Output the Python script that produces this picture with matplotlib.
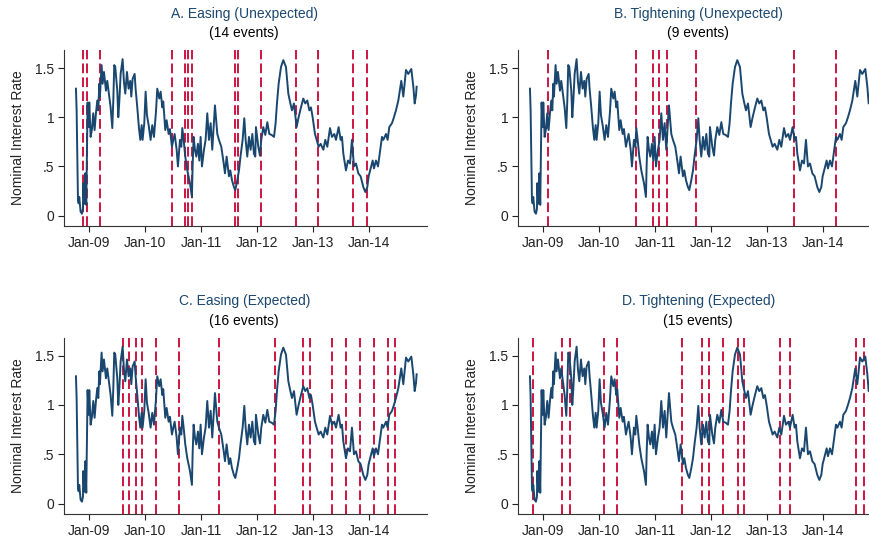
import numpy as np
import pandas as pd
import matplotlib
matplotlib.use('Agg')
import matplotlib.pyplot as plt

plt.rcParams['font.family'] = ['Liberation Sans', 'DejaVu Sans']
plt.rcParams['lines.scale_dashes'] = False

# interest rate series (time in decimal years)
rate_time = [
    2008.762, 2008.774, 2008.798, 2008.810, 2008.821, 2008.845, 2008.869, 2008.887,
    2008.893, 2008.911, 2008.929, 2008.946, 2008.970, 2008.988, 2009.000, 2009.024,
    2009.048, 2009.071, 2009.095, 2009.119, 2009.143, 2009.161, 2009.179, 2009.190,
    2009.220, 2009.238, 2009.262, 2009.298, 2009.321, 2009.345, 2009.381, 2009.411,
    2009.429, 2009.446, 2009.464, 2009.500, 2009.518, 2009.536, 2009.560, 2009.595,
    2009.619, 2009.643, 2009.673, 2009.702, 2009.732, 2009.750, 2009.774, 2009.810,
    2009.827, 2009.857, 2009.887, 2009.911, 2009.935, 2009.952, 2009.982, 2010.006,
    2010.030, 2010.060, 2010.095, 2010.125, 2010.155, 2010.190, 2010.214, 2010.250,
    2010.274, 2010.304, 2010.321, 2010.357, 2010.381, 2010.417, 2010.440, 2010.476,
    2010.500, 2010.524, 2010.560, 2010.583, 2010.619, 2010.643, 2010.661, 2010.685,
    2010.714, 2010.750, 2010.798, 2010.833, 2010.845, 2010.863, 2010.887, 2010.911,
    2010.940, 2010.964, 2010.988, 2011.012, 2011.048, 2011.077, 2011.107, 2011.137,
    2011.167, 2011.196, 2011.244, 2011.286, 2011.315, 2011.357, 2011.393, 2011.423,
    2011.452, 2011.494, 2011.518, 2011.548, 2011.583, 2011.607, 2011.643, 2011.673,
    2011.702, 2011.738, 2011.768, 2011.792, 2011.821, 2011.851, 2011.881, 2011.911,
    2011.940, 2011.964, 2011.976, 2012.018, 2012.048, 2012.071, 2012.107, 2012.143,
    2012.179, 2012.214, 2012.256, 2012.298, 2012.327, 2012.351, 2012.381, 2012.423,
    2012.464, 2012.512, 2012.554, 2012.583, 2012.619, 2012.655, 2012.702, 2012.738,
    2012.780, 2012.821, 2012.857, 2012.893, 2012.929, 2012.958, 2012.988, 2013.030,
    2013.060, 2013.095, 2013.131, 2013.179, 2013.214, 2013.250, 2013.298, 2013.333,
    2013.375, 2013.405, 2013.452, 2013.488, 2013.512, 2013.536, 2013.583, 2013.619,
    2013.655, 2013.690, 2013.726, 2013.762, 2013.804, 2013.845, 2013.893, 2013.929,
    2013.964, 2013.988, 2014.024, 2014.060, 2014.083, 2014.119, 2014.155, 2014.226,
    2014.250, 2014.298, 2014.327, 2014.357, 2014.405, 2014.440, 2014.476, 2014.518,
    2014.571, 2014.607, 2014.655, 2014.696, 2014.750, 2014.786, 2014.810, 2014.833,
    2014.845,
]
rate_value = [
    1.29, 1.07, 0.16, 0.125, 0.19, 0.04, 0.02, 0.07,
    0.33, 0.12, 0.43, 0.11, 1.15, 0.90, 1.15, 0.80,
    0.88, 1.04, 0.87, 1.04, 1.17, 1.07, 1.34, 1.21,
    1.53, 1.34, 1.46, 1.27, 1.37, 1.26, 1.10, 0.89,
    1.17, 1.53, 1.51, 1.27, 1.00, 1.16, 1.44, 1.59,
    1.36, 1.24, 1.46, 1.29, 1.37, 1.21, 1.39, 1.44,
    1.29, 1.10, 0.89, 0.77, 0.92, 0.77, 0.94, 1.26,
    1.02, 0.92, 0.77, 0.92, 0.80, 1.05, 1.29, 1.19,
    1.26, 1.10, 1.16, 0.87, 0.97, 0.83, 0.88, 0.70,
    0.77, 0.83, 0.67, 0.50, 0.77, 0.70, 0.89, 0.77,
    0.60, 0.46, 0.33, 0.19, 0.50, 0.80, 0.67, 0.60,
    0.73, 0.56, 0.80, 0.50, 0.67, 0.77, 1.04, 0.77,
    0.94, 0.67, 1.12, 0.83, 0.77, 0.70, 0.56, 0.43,
    0.60, 0.40, 0.46, 0.36, 0.29, 0.26, 0.36, 0.46,
    0.61, 0.77, 0.99, 0.77, 0.60, 0.80, 0.67, 0.83,
    0.63, 0.60, 0.90, 0.70, 0.61, 0.77, 0.90, 0.82,
    0.95, 0.83, 0.82, 0.80, 0.94, 1.14, 1.34, 1.51,
    1.58, 1.51, 1.24, 1.16, 1.07, 1.14, 0.90, 1.00,
    1.10, 1.19, 1.14, 1.17, 1.07, 1.10, 1.00, 0.83,
    0.77, 0.70, 0.73, 0.67, 0.77, 0.70, 0.89, 0.80,
    0.83, 0.77, 0.90, 0.77, 0.80, 0.63, 0.46, 0.56,
    0.53, 0.77, 0.50, 0.53, 0.43, 0.40, 0.29, 0.24,
    0.29, 0.40, 0.48, 0.56, 0.48, 0.56, 0.50, 0.80,
    0.77, 0.83, 0.77, 0.90, 0.94, 1.00, 1.07, 1.17,
    1.37, 1.21, 1.48, 1.44, 1.49, 1.31, 1.14, 1.22,
    1.31,
]

titles = ['A. Easing (Unexpected)', 'B. Tightening (Unexpected)',
          'C. Easing (Expected)', 'D. Tightening (Expected)']

events_a = ['2008-11-20', '2008-12-14', '2009-03-15', '2010-06-23', '2010-09-20',
            '2010-10-10', '2010-11-02', '2011-08-08', '2011-08-27', '2012-01-24',
            '2012-09-13', '2013-01-29', '2013-09-20', '2013-12-20']
events_b = ['2009-01-29', '2010-08-29', '2010-12-16', '2011-01-28', '2011-03-19',
            '2011-09-24', '2013-06-24', '2014-03-24', '2014-11-02']
events_c = ['2009-08-08', '2009-09-20', '2009-11-02', '2009-12-13', '2010-03-15',
            '2010-08-08', '2011-04-25', '2012-04-25', '2012-10-23', '2012-12-13',
            '2013-05-01', '2013-08-01', '2013-10-31', '2014-01-29', '2014-05-01',
            '2014-06-21']
events_d = ['2008-10-29', '2009-04-30', '2009-06-23', '2010-01-29', '2010-04-30',
            '2011-06-23', '2011-11-02', '2011-12-16', '2012-03-17', '2012-06-23',
            '2012-08-05', '2013-03-25', '2013-05-28', '2014-08-04', '2014-09-23']

tick_years = [2009, 2010, 2011, 2012, 2013, 2014]
ytick_vals = [0, 0.5, 1, 1.5]
ytick_labels = ['0', '.5', '1', '1.5']


def to_date(yr):
    yr = np.asarray(yr, dtype=float)
    base = pd.Timestamp('2009-01-01')
    return base + pd.to_timedelta((yr - 2009) * 365.25, unit='D')


navy = '#1a476f'
red = '#cc1540'

dates = to_date(rate_time)
W, H = 870, 539
# axes boxes in pixels: left, top, width, height
boxes = [(64.3, 50, 362.7, 176), (518.3, 50, 362.7, 176),
         (64.3, 337.5, 362.7, 176.5), (518.3, 337.5, 362.7, 176.5)]
all_events = [events_a, events_b, events_c, events_d]

fig = plt.figure(figsize=(W / 100, H / 100), dpi=100)
fig.patch.set_facecolor('white')

for i in range(4):
    l, t, w, h = boxes[i]
    ax = fig.add_axes([l / W, 1 - (t + h) / H, w / W, h / H])
    for ev in all_events[i]:
        ax.axvline(pd.Timestamp(ev), color=red, lw=1.4, dashes=(7, 3), zorder=1)
    ax.plot(dates, rate_value, color=navy, lw=1.4, zorder=2)

    ax.set_xlim(to_date(2008.554), to_date(2015.03))
    ax.set_ylim(-0.105, 1.683)
    ax.set_xticks([pd.Timestamp(f'{y}-01-01') for y in tick_years])
    ax.set_xticklabels([f'Jan-{str(y)[2:]}' for y in tick_years])
    ax.set_yticks(ytick_vals)
    ax.set_yticklabels(ytick_labels)
    ax.tick_params(direction='out', length=4, width=0.8, labelsize=10,
                   colors='#222222', pad=3)
    for s in ['top', 'right']:
        ax.spines[s].set_visible(False)
    for s in ['left', 'bottom']:
        ax.spines[s].set_color('#333333')
        ax.spines[s].set_linewidth(0.8)
    ax.set_ylabel('Nominal Interest Rate', fontsize=10, color='#222222')
    ax.yaxis.set_label_coords(-0.108, 0.5)

    n = len(all_events[i])
    cx = (l + 180) / W
    fig.text(cx, 1 - (t - 36) / H, titles[i], ha='center', va='center',
             fontsize=10, color=navy)
    fig.text(cx, 1 - (t - 17) / H, f'({n} events)', ha='center', va='center',
             fontsize=10, color='black')

fig.savefig('out.png', dpi=100)
